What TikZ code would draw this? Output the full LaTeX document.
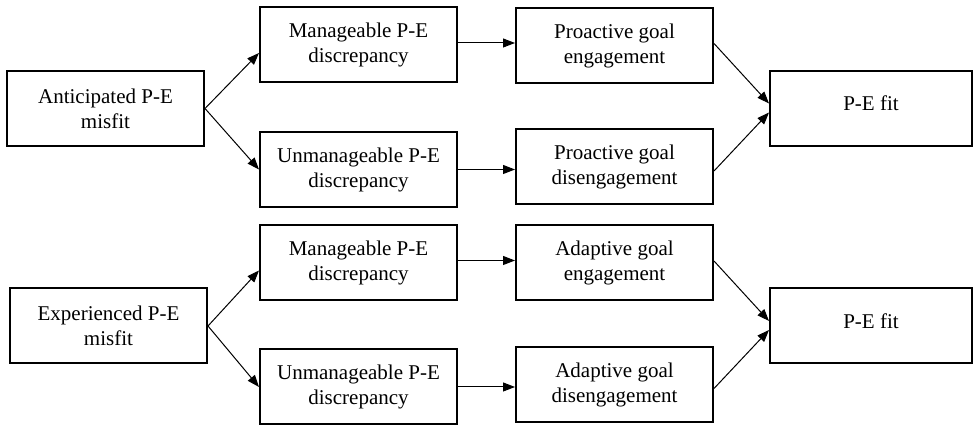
\documentclass[tikz,border=0pt]{standalone}
\usepackage{fontspec}
\setmainfont{Liberation Serif}
\usetikzlibrary{arrows.meta}
\begin{document}
\begin{tikzpicture}[x=0.5pt,y=-0.5pt,
    box/.style={draw,line width=1pt,minimum width=98.5pt,minimum height=37.5pt,align=center,inner sep=2pt,font=\fontsize{10.5}{12.5}\selectfont},
    arr/.style={-{Triangle[length=6pt,width=4.5pt]},line width=0.5pt}]
    \useasboundingbox (0,0) rectangle (975,426);
    \foreach \i/\src/\goal in {0/Anticipated/Proactive,1/Experienced/Adaptive}{
        \pgfmathsetmacro\dy{217.5*\i}
        \node[box] (a\i) at ({105.5+3*\i},{108.5+\dy}) {\src\ P-E\\misfit};
        \node[box] (m\i) at (358.5,{45+\dy}) {Manageable P-E\\discrepancy};
        \node[box] (u\i) at (358.5,{169.5+\dy}) {Unmanageable P-E\\discrepancy};
        \node[box] (e\i) at (614.5,{45.5+\dy}) {\goal\ goal\\engagement};
        \node[box] (d\i) at (614.5,{167+\dy}) {\goal\ goal\\disengagement};
        \node[box,minimum width=101pt] (f\i) at (871,{108.5+\dy}) {\raisebox{5pt}{P-E fit}};
        % liens
        \draw[arr] (a\i.east) -- ([yshift=-4pt]m\i.west);
        \draw[arr] (a\i.east) -- (u\i.west);
        \draw[arr] ([yshift=1pt]m\i.east) -- ([yshift=1pt]m\i.east -| e\i.west);
        \draw[arr] (u\i.east) -- (u\i.east -| d\i.west);
        \draw[arr] ([yshift=1pt]e\i.east) -- ([yshift=2.5pt]f\i.west);
        \draw[arr] ([yshift=-2pt]d\i.east) -- ([yshift=-2pt]f\i.west);}
\end{tikzpicture}
\end{document}
